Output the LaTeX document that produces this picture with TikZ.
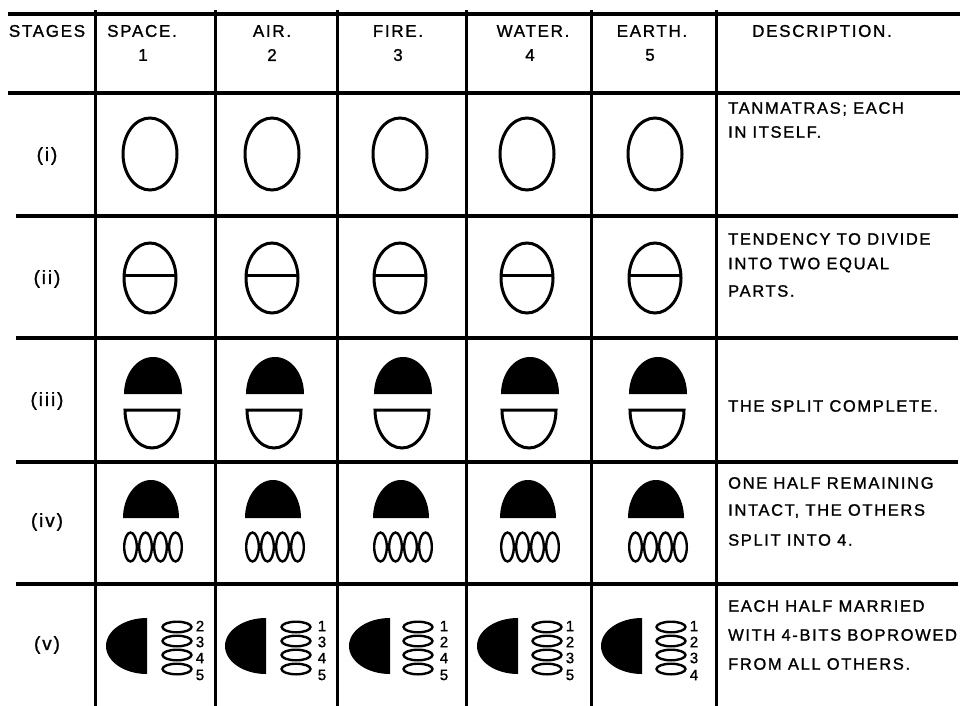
\documentclass[tikz,border=0pt]{standalone}
\usepackage{fontspec}
\setmainfont{Liberation Sans}[LetterSpace=10, FakeBold=1.2]
\begin{document}
\begin{tikzpicture}[x=1pt,y=-1pt,
  tline/.style={line width=3.2pt},
  shp/.style={line width=3pt},
  thinshp/.style={line width=2.4pt},
  lbl/.style={inner sep=0pt, font=\fontsize{17}{20}\selectfont},
  stg/.style={inner sep=0pt, font=\fontsize{19}{22}\selectfont},
  desc/.style={inner sep=0pt, anchor=west, font=\fontsize{16.5}{19}\selectfont},
  dig/.style={inner sep=0pt, font=\fontsize{15}{15}\selectfont}]
\fill[white] (0,0) rectangle (963,706);
\useasboundingbox (0,0) rectangle (963,706);
% table lines
\draw[tline] (8,14) -- (960,14);
\draw[tline] (8,93) -- (960,93);
\foreach \y in {216,338,462,584} \draw[tline] (16,\y) -- (958,\y);
\foreach \x in {95,215,337,466,591,716} \draw[line width=3pt] (\x,10) -- (\x,706);
% header
\node[lbl] (hst) at (47,31) {STAGES};
\node[lbl] (h1) at (142,31) {SPACE.};
\node[lbl] (h1n) at (143,55) {1};
\node[lbl] (h2) at (272,31) {AIR.};
\node[lbl] (h2n) at (272,55) {2};
\node[lbl] (h3) at (398,31) {FIRE.};
\node[lbl] (h3n) at (398,55) {3};
\node[lbl] (h4) at (533,31) {WATER.};
\node[lbl] (h4n) at (530,55) {4};
\node[lbl] (h5) at (652,31) {EARTH.};
\node[lbl] (h5n) at (650,55) {5};
\node[lbl] (hd) at (822,31) {DESCRIPTION.};
% stage labels
\node[stg] (s1) at (47,156) {(i)};
\node[stg] (s2) at (47,279) {(ii)};
\node[stg] (s3) at (47,401) {(iii)};
\node[stg] (s4) at (47,522) {(iv)};
\node[stg] (s5) at (47,645) {(v)};
% shapes rows i-iv
\foreach \x in {150,272,400,527,655}{
  \draw[shp] (\x,154) ellipse[x radius=27, y radius=36];
  \draw[shp] (\x,278) ellipse[x radius=26, y radius=35];
  \draw[shp] (\x-26,275) -- (\x+26,275);
  \fill (\x+3-29,394) arc[start angle=180, end angle=360, x radius=29, y radius=37] -- cycle;
  \draw[shp] (\x+2-27,410) arc[start angle=180, end angle=0, x radius=27, y radius=38] -- cycle;
  \fill (\x+1-28,518) arc[start angle=180, end angle=360, x radius=28, y radius=38] -- cycle;
  \foreach \o in {-22.5,-7.5,7.5,22.5}
    \draw[thinshp] (\x+3+\o,547) ellipse[x radius=6.3, y radius=14.5];
}
% row v
\foreach \dr/\ec/\dx/\a/\b/\c/\d in {147/177/200/2/3/4/5, 266/296/322/1/3/4/5, 390/418/444/1/2/4/5, 518/547/570/1/2/3/5, 642/671/694/1/2/3/4}{
  \fill (\dr,618) arc[start angle=270, end angle=90, x radius=41, y radius=28] -- cycle;
  \foreach \yy in {627,641,655,669}
    \draw[thinshp] (\ec,\yy) ellipse[x radius=14.5, y radius=5.3];
  \node[dig] (v\dr a) at (\dx,626) {\a};
  \node[dig] (v\dr b) at (\dx,642) {\b};
  \node[dig] (v\dr c) at (\dx,658) {\c};
  \node[dig] (v\dr d) at (\dx,675) {\d};
}
% descriptions
\node[desc] (d1a) at (728,109) {TANMATRAS; EACH};
\node[desc] (d1b) at (728,132) {IN ITSELF.};
\node[desc] (d2a) at (728,239) {TENDENCY TO DIVIDE};
\node[desc] (d2b) at (728,265) {INTO TWO EQUAL};
\node[desc] (d2c) at (728,291) {PARTS.};
\node[desc] (d3a) at (728,406) {THE SPLIT COMPLETE.};
\node[desc] (d4a) at (728,483) {ONE HALF REMAINING};
\node[desc] (d4b) at (728,511) {INTACT, THE OTHERS};
\node[desc] (d4c) at (728,540) {SPLIT INTO 4.};
\node[desc] (d5a) at (728,606) {EACH HALF MARRIED};
\node[desc] (d5b) at (728,635) {WITH 4-BITS BOPROWED};
\node[desc] (d5c) at (728,664) {FROM ALL OTHERS.};
\end{tikzpicture}
\end{document}
